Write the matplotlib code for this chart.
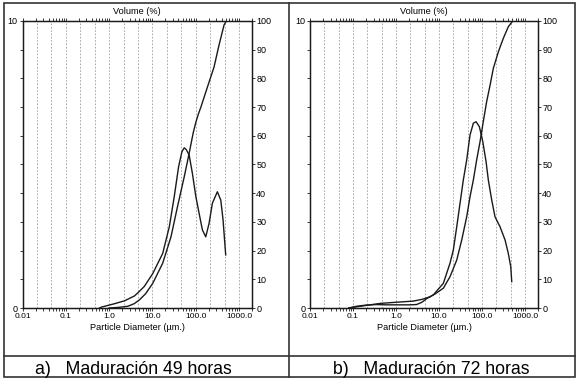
import matplotlib

matplotlib.use("Agg")
import matplotlib.pyplot as plt
from matplotlib.lines import Line2D
from matplotlib.patches import Rectangle
from matplotlib.ticker import LogLocator, NullFormatter

plt.rcParams["font.family"] = ["Liberation Sans", "DejaVu Sans"]

# ---- data -----------------------------------------------------------------
# a) 49 h: frequency (left axis, volume %) and cumulative (right axis, %)
freq_a_x = [0.6, 0.66, 1.34, 2.27, 3.86, 5.0, 6.5, 10.2, 17.3, 24.6, 32, 40.3, 48.2,
            54.4, 60.5, 70.7, 84, 101, 120, 143, 171, 204, 243, 317, 380, 429, 459, 494]
freq_a_v = [0.0, 0.03, 0.15, 0.25, 0.42, 0.58, 0.75, 1.2, 1.9, 2.83, 3.88, 4.92, 5.45,
            5.58, 5.52, 5.33, 4.69, 3.88, 3.3, 2.72, 2.48, 2.95, 3.65, 4.05, 3.76, 3.07, 2.48, 1.85]
cum_a_x = [1.0, 1.6, 2.7, 3.8, 5.0, 7.0, 10.2, 17.3, 26.9, 38, 54.4, 70.7, 87.6,
           100, 115, 132, 187, 266, 346, 452, 510]
cum_a_v = [0, 0.2, 0.6, 1.5, 2.8, 5.0, 8.6, 15.6, 24.8, 35.3, 45.7, 53.9, 61,
           64.5, 67.5, 70, 77, 84, 91.6, 98.6, 100]

# b) 72 h
freq_b_x = [0.08, 0.12, 0.2, 0.35, 0.6, 1.0, 2.0, 3.0, 4.0, 5.2, 7.4, 12.6, 18, 21.5,
            25.8, 30.8, 36.7, 44, 52.6, 62.8, 72.5, 86.5, 104, 124, 140, 168, 200,
            262, 343, 408, 465, 490]
freq_b_v = [0.0, 0.06, 0.1, 0.12, 0.11, 0.11, 0.11, 0.12, 0.2, 0.33, 0.46, 0.86, 1.56, 2.02,
            2.83, 3.65, 4.46, 5.16, 6.03, 6.44, 6.49, 6.32, 5.8, 5.1, 4.46, 3.76, 3.18,
            2.83, 2.37, 1.9, 1.44, 0.92]
cum_b_x = [0.08, 0.12, 0.2, 0.43, 1.0, 2.5, 4.0, 6.2, 8.1, 12.6, 18, 25.8, 33.7, 44,
           52.6, 62.8, 75, 90, 107, 128, 154, 183, 240, 313, 408, 517]
cum_b_v = [0, 0.4, 0.9, 1.6, 2.0, 2.4, 3.0, 3.9, 4.9, 6.9, 10.9, 16.7, 23.7, 31.8,
           38.8, 44.6, 51.6, 58, 65, 71.9, 77.7, 83.5, 89.3, 94, 98, 100]

x_ticks = [0.01, 0.1, 1, 10, 100, 1000]
x_ticklabels = ["0.01", "0.1", "1.0", "10.0", "100.0", "1000.0"]
grid_x = [10 ** (-2 + k / 3) for k in range(1, 16)]  # dashed lines, 3 per decade
captions = ["a)   Maduración 49 horas", "b)   Maduración 72 horas"]

W, H = 580, 382
INK = "#1a1a1a"


def fx(px):
    return px / W


def fy(py):
    return 1 - py / H


fig = plt.figure(figsize=(W / 100, H / 100), dpi=100)


def panel(x0, x1, fxs, fvs, cxs, cvs):
    top, bot = 21, 308
    ax = fig.add_axes([fx(x0), fy(bot), (x1 - x0) / W, (bot - top) / H])
    ax.set_xscale("log")
    ax.set_xlim(0.01, 2000)
    ax.set_ylim(0, 10)
    for g in grid_x:
        ax.axvline(g, color="#9a9a9a", lw=0.6, ls=(0, (2, 2)), zorder=0)
    ax.plot(fxs, fvs, color=INK, lw=1.0)

    ax.set_xticks(x_ticks)
    ax.set_xticklabels(x_ticklabels)
    ax.xaxis.set_minor_locator(LogLocator(base=10, subs=range(2, 10), numticks=50))
    ax.xaxis.set_minor_formatter(NullFormatter())
    ax.tick_params(axis="x", which="both", top=True, bottom=True, direction="out",
                   length=2, width=0.6, labelsize=6.1, pad=1.5, color=INK)
    ax.set_yticks(range(0, 11))
    ax.set_yticklabels(["0"] + [""] * 9 + ["10"])
    ax.tick_params(axis="y", direction="out", length=2, width=0.6, labelsize=6.5,
                   pad=1.5, color=INK)

    ax2 = ax.twinx()
    ax2.set_ylim(0, 100)
    ax2.plot(cxs, cvs, color=INK, lw=1.0)
    ax2.set_yticks(range(0, 101, 10))
    ax2.tick_params(axis="y", direction="out", length=2.5, width=0.6, labelsize=6.5,
                    pad=0.5, color=INK)
    for a in (ax, ax2):
        for s in a.spines.values():
            s.set_linewidth(0.9)
            s.set_color(INK)

    cx = (x0 + x1) / 2
    fig.text(fx(cx), fy(11), "Volume (%)", ha="center", va="center", fontsize=6.6)
    fig.text(fx(cx), fy(327), "Particle Diameter (µm.)", ha="center", va="center",
             fontsize=6.6)
    return ax


panel(22.5, 252, freq_a_x, freq_a_v, cum_a_x, cum_a_v)
panel(310, 538, freq_b_x, freq_b_v, cum_b_x, cum_b_v)

# table-like frame around the two panels and their captions
frame = dict(color="#333333", lw=1.2, transform=fig.transFigure)
fig.add_artist(Rectangle((fx(4), fy(377)), (575 - 4) / W, (377 - 3) / H, fill=False,
                         edgecolor="#333333", lw=1.2, transform=fig.transFigure))
fig.add_artist(Line2D([fx(289), fx(289)], [fy(3), fy(377)], **frame))
fig.add_artist(Line2D([fx(4), fx(575)], [fy(355.5), fy(355.5)], **frame))

fig.text(fx(35), fy(374), captions[0], ha="left", va="baseline", fontsize=12.7)
fig.text(fx(333), fy(374), captions[1], ha="left", va="baseline", fontsize=12.7)

fig.savefig("out.png", dpi=100)
